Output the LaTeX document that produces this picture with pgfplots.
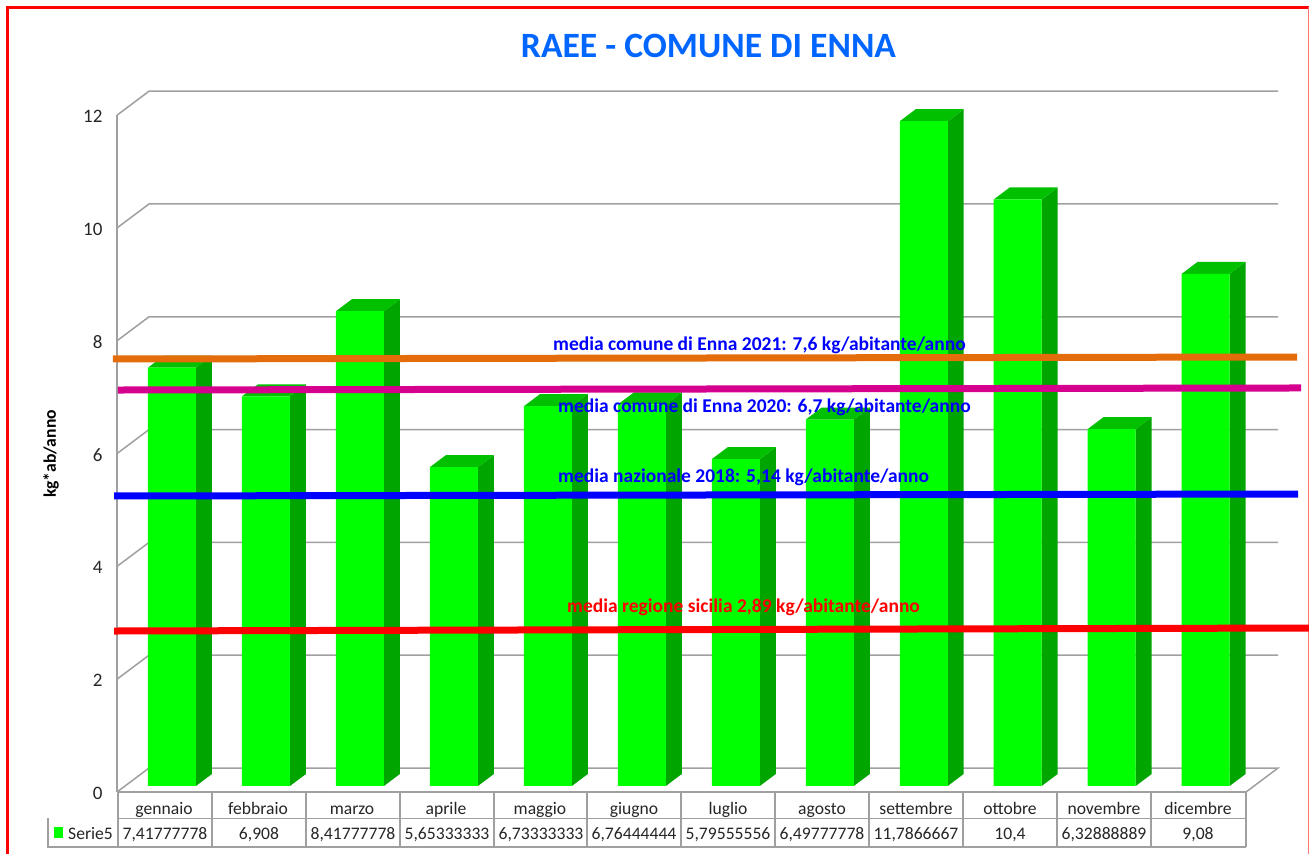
\documentclass[border=0pt]{standalone}
\usepackage{fontspec}
\setmainfont{Carlito}
\usepackage{pgfplots}
\pgfplotsset{compat=1.18}
\definecolor{gridg}{HTML}{A0A0A0}
\definecolor{gfront}{HTML}{00FF00}
\definecolor{gside}{HTML}{00A500}
\definecolor{gtop}{HTML}{00C000}
\definecolor{torange}{HTML}{E46C0A}
\definecolor{tmag}{HTML}{D6008F}
\definecolor{titleb}{HTML}{0066FF}
\definecolor{txt}{HTML}{262626}
\newcommand{\px}[2]{({#1pt},{854pt-#2pt})}
\begin{document}
\begin{tikzpicture}[x=1pt,y=1pt]
\path[use as bounding box] (0,0) rectangle (1309,854);
\fill[white] (0,0) rectangle (1309,854);
% frame
\draw[red,line width=2.2pt] (7.5,0) -- (7.5,846.5) -- (1309,846.5);
\draw[red!55,line width=1pt] (1308,0) -- (1308,847);
% wall axis
\begin{axis}[
  at={(117pt,62pt)},anchor=south west,scale only axis,
  width=1129pt,height=676.8pt,
  xmin=0,xmax=1129,ymin=0,ymax=12,clip=false,
  axis x line*=bottom,axis y line*=left,
  axis line style={draw=gridg,line width=1.5pt,-},
  ytick={0,2,4,6,8,10,12},
  xtick={47,141,235,329,423,517,611,705,799,893,987,1081},
  xticklabels={gennaio,febbraio,marzo,aprile,maggio,giugno,luglio,agosto,settembre,ottobre,novembre,dicembre},
  tick style={draw=none},
  /pgf/number format/assume math mode=true,
  yticklabel style={font=\fontsize{19}{19}\selectfont,text=txt,xshift=-11pt,yshift=-1.5pt},
  xticklabel style={font=\fontsize{17.6}{17.6}\selectfont,text=txt,anchor=base,yshift=-23pt},
]
\pgfplotsforeachungrouped \v in {2,4,6,8,10,12}{
  \pgfmathsetmacro\t{\v+24/56.4}
  \edef\temp{\noexpand\addplot[draw=gridg,line width=1.5pt,no marks] coordinates {(0,\v) (32,\t) (1161,\t)};}
  \temp
}
\addplot[draw=gridg,line width=1.5pt,no marks] coordinates {(0,0) (32,0.4255) (1161,0.4255) (1129,0)};
\end{axis}
% bars and reference lines
\begin{axis}[
  at={(125pt,68pt)},anchor=south west,scale only axis,
  width=1127.64pt,height=676.8pt,
  xmin=-0.5,xmax=11.5,ymin=0,ymax=12,clip=false,
  axis lines=none,
]
\pgfplotsforeachungrouped \i/\v in {0/7.41777778,1/6.908,2/8.41777778,3/5.65333333,4/6.73333333,5/6.76444444,6/5.79555556,7/6.49777778,8/11.7866667,9/10.4,10/6.32888889,11/9.08}{
  \pgfmathsetmacro\xl{\i-0.2554}
  \pgfmathsetmacro\xlb{\i-0.0854}
  \pgfmathsetmacro\xr{\i+0.2554}
  \pgfmathsetmacro\xrb{\i+0.4254}
  \pgfmathsetmacro\vt{\v+0.2128}
  \edef\temp{\noexpand\addplot[fill=gside,draw=none,no marks] coordinates {(\xr,0) (\xrb,0.2128) (\xrb,\vt) (\xr,\v)} -- cycle;
  \noexpand\addplot[fill=gtop,draw=none,no marks] coordinates {(\xl,\v) (\xlb,\vt) (\xrb,\vt) (\xr,\v)} -- cycle;}
  \temp
}
\addplot[ybar,bar width=48pt,bar shift=0pt,fill=gfront,draw=none] coordinates {
 (0,7.41777778) (1,6.908) (2,8.41777778) (3,5.65333333) (4,6.73333333) (5,6.76444444)
 (6,5.79555556) (7,6.49777778) (8,11.7866667) (9,10.4) (10,6.32888889) (11,9.08)};
\addplot[torange,line width=7pt,no marks] coordinates {(-0.628,7.571) (11.972,7.606)};
\addplot[tmag,line width=7pt,no marks] coordinates {(-0.575,7.021) (12.015,7.057)};
\addplot[blue,line width=7pt,no marks] coordinates {(-0.617,5.142) (11.983,5.177)};
\addplot[red,line width=7pt,no marks] coordinates {(-0.617,2.748) (12.1,2.801)};
\end{axis}
% table
\begin{scope}[draw=gridg,line width=1.5pt]
\draw \px{118}{792} -- \px{1246}{792};
\draw \px{118}{818.5} -- \px{1246}{818.5};
\draw \px{48}{818.5} -- \px{48}{847} -- \px{1246}{847};
\foreach \k in {118,212,306,400,494,587,681,775,869,963,1057,1151,1246}{
  \draw \px{\k}{792} -- \px{\k}{847};
}
\end{scope}
\fill[gfront] \px{54}{827} rectangle \px{63}{838};
\node[anchor=base west,inner sep=0pt,text=txt,font=\fontsize{17.6}{17.6}\selectfont] at \px{68}{839} {Serie5};
\foreach \c/\s in {165/{7,41777778},259/{6,908},353/{8,41777778},447/{5,65333333},541/{6,73333333},634/{6,76444444},728/{5,79555556},822/{6,49777778},916/{11,7866667},1010/{10,4},1104/{6,32888889},1198/{9,08}}{
  \node[anchor=base,inner sep=0pt,text=txt,font=\fontsize{17.6}{17.6}\selectfont] at \px{\c}{839} {\s};
}
% labels
\node[anchor=base,inner sep=0pt,text=titleb,font=\bfseries\fontsize{35.6}{35.6}\selectfont] at \px{708.5}{57.5} {RAEE - COMUNE DI ENNA};
\node[rotate=90,inner sep=0pt,text=black,font=\bfseries\fontsize{17.6}{17.6}\selectfont] at \px{51}{454} {kg*ab/anno};
\begin{scope}[every node/.style={anchor=base west,inner sep=0pt,font=\bfseries\fontsize{19.5}{19.5}\selectfont}]
\node[text=blue] at \px{553}{351} {media comune di Enna 2021: 7,6 kg/abitante/anno};
\node[text=blue] at \px{558}{413} {media comune di Enna 2020: 6,7 kg/abitante/anno};
\node[text=blue] at \px{558}{483} {media nazionale 2018: 5,14 kg/abitante/anno};
\node[text=red] at \px{567}{613} {media regione sicilia 2,89 kg/abitante/anno};
\end{scope}
\end{tikzpicture}
\end{document}
